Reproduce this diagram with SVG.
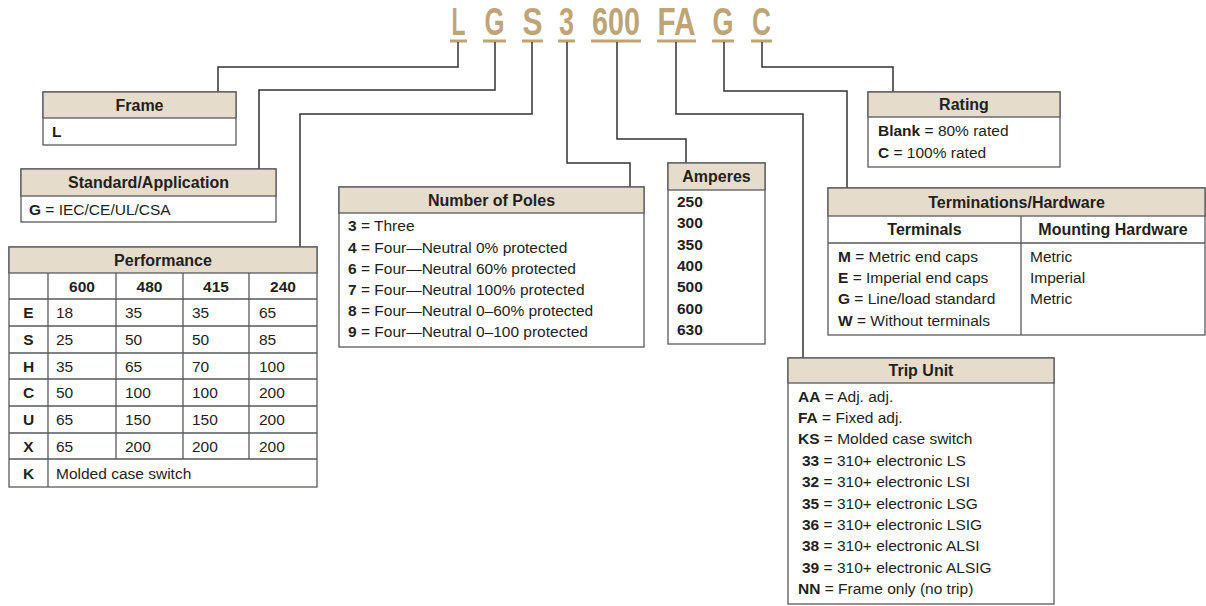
<svg xmlns="http://www.w3.org/2000/svg" width="1206" height="606" viewBox="0 0 1206 606">
<style>
text{font-family:"Liberation Sans",Arial,sans-serif;fill:#231F20;font-size:15.5px}
.b{font-weight:bold}
.h{font-weight:bold;font-size:16px;text-anchor:middle}
.c{text-anchor:middle}
.box{fill:#fff;stroke:#58595B;stroke-width:1.3}
.hd{fill:#E6DCCB;stroke:#58595B;stroke-width:1.3}
.ln{stroke:#58595B;stroke-width:1.3;fill:none}
.code{font-family:"Liberation Sans Narrow","Liberation Sans",sans-serif;font-weight:bold;font-size:38px;fill:#BFA475;text-anchor:middle}
.ul{stroke:#BFA475;stroke-width:3}
.con{stroke:#333;stroke-width:1.5;fill:none}
</style>
<rect width="1206" height="606" fill="#fff"/>
<g id="code">
<text class="code" x="458.5" y="35" textLength="14" lengthAdjust="spacingAndGlyphs">L</text>
<text class="code" x="494.5" y="35" textLength="20" lengthAdjust="spacingAndGlyphs">G</text>
<text class="code" x="532.5" y="35" textLength="20" lengthAdjust="spacingAndGlyphs">S</text>
<text class="code" x="566.5" y="35" textLength="15" lengthAdjust="spacingAndGlyphs">3</text>
<text class="code" x="616" y="35" textLength="48" lengthAdjust="spacingAndGlyphs">600</text>
<text class="code" x="676.5" y="35" textLength="38" lengthAdjust="spacingAndGlyphs">FA</text>
<text class="code" x="723" y="35" textLength="21" lengthAdjust="spacingAndGlyphs">G</text>
<text class="code" x="761.5" y="35" textLength="19" lengthAdjust="spacingAndGlyphs">C</text>
<path class="ul" d="M450,41H467M483,41H506M522,41H543M558,41H575M591,41H641M657,41H696M712,41H734M751,41H772"/>
</g>
<g id="connectors">
<path class="con" d="M458,42V67H218V92"/>
<path class="con" d="M495,42V90H259V169"/>
<path class="con" d="M532,42V114H300V247"/>
<path class="con" d="M567,42V163H630V187"/>
<path class="con" d="M617,42V139H686V163"/>
<path class="con" d="M676,42V114H803V358"/>
<path class="con" d="M724,42V91H847V188"/>
<path class="con" d="M762,42V67H893V92"/>
</g>
<g id="frame">
<rect class="box" x="43" y="92" width="193" height="53"/>
<rect class="hd" x="43" y="92" width="193" height="26"/>
<text class="h" x="139.5" y="110.5">Frame</text>
<text class="b" x="52" y="137">L</text>
</g>
<g id="standard">
<rect class="box" x="21" y="169" width="255" height="53"/>
<rect class="hd" x="21" y="169" width="255" height="27"/>
<text class="h" x="148.5" y="188">Standard/Application</text>
<text x="29" y="214.5"><tspan class="b">G</tspan> = IEC/CE/UL/CSA</text>
</g>
<g id="performance">
<rect class="box" x="9" y="247" width="308" height="240"/>
<rect class="hd" x="9" y="247" width="308" height="26"/>
<text class="h" x="163" y="265.5">Performance</text>
<path class="ln" d="M9,299H317M9,326H317M9,353H317M9,379H317M9,406H317M9,433H317M9,459H317M48,273V487M116,273V459M183,273V459M249,273V459"/>
<text class="b c" x="82" y="291.5">600</text>
<text class="b c" x="149.5" y="291.5">480</text>
<text class="b c" x="216" y="291.5">415</text>
<text class="b c" x="283" y="291.5">240</text>
<g class="rows">
<text class="b c" x="28.5" y="318">E</text><text x="56" y="318">18</text><text x="125" y="318">35</text><text x="192" y="318">35</text><text x="259" y="318">65</text>
<text class="b c" x="28.5" y="345">S</text><text x="56" y="345">25</text><text x="125" y="345">50</text><text x="192" y="345">50</text><text x="259" y="345">85</text>
<text class="b c" x="28.5" y="371.5">H</text><text x="56" y="371.5">35</text><text x="125" y="371.5">65</text><text x="192" y="371.5">70</text><text x="259" y="371.5">100</text>
<text class="b c" x="28.5" y="398">C</text><text x="56" y="398">50</text><text x="125" y="398">100</text><text x="192" y="398">100</text><text x="259" y="398">200</text>
<text class="b c" x="28.5" y="425">U</text><text x="56" y="425">65</text><text x="125" y="425">150</text><text x="192" y="425">150</text><text x="259" y="425">200</text>
<text class="b c" x="28.5" y="451.5">X</text><text x="56" y="451.5">65</text><text x="125" y="451.5">200</text><text x="192" y="451.5">200</text><text x="259" y="451.5">200</text>
<text class="b c" x="28.5" y="478.5">K</text><text x="56" y="478.5">Molded case switch</text>
</g>
</g>
<g id="poles">
<rect class="box" x="339" y="187" width="305" height="160"/>
<rect class="hd" x="339" y="187" width="305" height="26"/>
<text class="h" x="491.5" y="205.5">Number of Poles</text>
<text x="348" y="231.3"><tspan class="b">3</tspan> = Three</text>
<text x="348" y="252.5"><tspan class="b">4</tspan> = Four—Neutral 0% protected</text>
<text x="348" y="273.7"><tspan class="b">6</tspan> = Four—Neutral 60% protected</text>
<text x="348" y="294.9"><tspan class="b">7</tspan> = Four—Neutral 100% protected</text>
<text x="348" y="316.1"><tspan class="b">8</tspan> = Four—Neutral 0–60% protected</text>
<text x="348" y="337.3"><tspan class="b">9</tspan> = Four—Neutral 0–100 protected</text>
</g>
<g id="amperes">
<rect class="box" x="668" y="163" width="97" height="181"/>
<rect class="hd" x="668" y="163" width="97" height="27"/>
<text class="h" x="716.5" y="181.5">Amperes</text>
<text class="b" x="677" y="207">250</text>
<text class="b" x="677" y="228.3">300</text>
<text class="b" x="677" y="249.6">350</text>
<text class="b" x="677" y="270.9">400</text>
<text class="b" x="677" y="292.2">500</text>
<text class="b" x="677" y="313.5">600</text>
<text class="b" x="677" y="334.8">630</text>
</g>
<g id="rating">
<rect class="box" x="868" y="92" width="192" height="75"/>
<rect class="hd" x="868" y="92" width="192" height="25"/>
<text class="h" x="964" y="110">Rating</text>
<text x="878" y="135.5"><tspan class="b">Blank</tspan> = 80% rated</text>
<text x="878" y="157.5"><tspan class="b">C</tspan> = 100% rated</text>
</g>
<g id="terminations">
<rect class="box" x="828" y="188" width="377" height="147"/>
<rect class="hd" x="828" y="188" width="377" height="28"/>
<path class="ln" d="M828,243H1205M1021,216V335"/>
<text class="h" x="1016.5" y="208">Terminations/Hardware</text>
<text class="h" x="924.5" y="235">Terminals</text>
<text class="h" x="1113" y="235">Mounting Hardware</text>
<text x="838" y="261.5"><tspan class="b">M</tspan> = Metric end caps</text>
<text x="838" y="282.5"><tspan class="b">E</tspan> = Imperial end caps</text>
<text x="838" y="304"><tspan class="b">G</tspan> = Line/load standard</text>
<text x="838" y="325.5"><tspan class="b">W</tspan> = Without terminals</text>
<text x="1030" y="261.5">Metric</text>
<text x="1030" y="282.5">Imperial</text>
<text x="1030" y="304">Metric</text>
</g>
<g id="tripunit">
<rect class="box" x="788" y="358" width="266" height="246"/>
<rect class="hd" x="788" y="358" width="266" height="25"/>
<text class="h" x="921" y="376">Trip Unit</text>
<text x="798" y="401.5"><tspan class="b">AA</tspan> = Adj. adj.</text>
<text x="798" y="422.9"><tspan class="b">FA</tspan> = Fixed adj.</text>
<text x="798" y="444.3"><tspan class="b">KS</tspan> = Molded case switch</text>
<text x="802" y="465.7"><tspan class="b">33</tspan> = 310+ electronic LS</text>
<text x="802" y="487.1"><tspan class="b">32</tspan> = 310+ electronic LSI</text>
<text x="802" y="508.5"><tspan class="b">35</tspan> = 310+ electronic LSG</text>
<text x="802" y="529.9"><tspan class="b">36</tspan> = 310+ electronic LSIG</text>
<text x="802" y="551.3"><tspan class="b">38</tspan> = 310+ electronic ALSI</text>
<text x="802" y="572.7"><tspan class="b">39</tspan> = 310+ electronic ALSIG</text>
<text x="798" y="594.1"><tspan class="b">NN</tspan> = Frame only (no trip)</text>
</g>
</svg>
